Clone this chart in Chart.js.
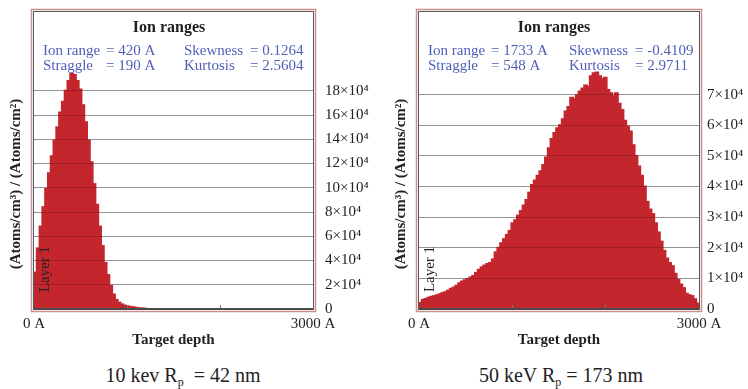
<!DOCTYPE html>
<html>
<head>
<meta charset="utf-8">
<script src="https://cdn.jsdelivr.net/npm/chart.js@4/dist/chart.umd.min.js"></script>
<style>
    body { margin: 0; background: #fff; width: 748px; height: 389px; overflow: hidden; position: relative; font-family: "Liberation Serif", "Times New Roman", serif; }
    canvas { position: absolute; top: 0; }
    #range10 { left: 0; }
    #range50 { left: 380px; }
    .caption { position: absolute; top: 364px; font-size: 20px; color: #222; text-align: center; white-space: pre; }
    .caption sub { font-size: 12px; vertical-align: -4px; }
</style>
</head>
<body>
<canvas id="range10" width="374" height="350"></canvas>
<canvas id="range50" width="368" height="350"></canvas>
<div class="caption" style="left:0;width:366px">10 kev R<sub>p</sub>  = 42 nm</div>
<div class="caption" style="left:380px;width:362px">50 keV R<sub>p</sub> = 173 nm</div>

<script>
// depth histogram, 30 A per bin starting at 0 A, counts in units of 10^4
const BIN_WIDTH = 30;
const DEPTH_MAX = 3000;

const counts10keV = [
    3.0, 5.0, 6.8, 8.4, 9.9, 11.2, 12.6, 13.9, 15.0, 16.2,
    17.1, 18.0, 18.8, 19.4, 19.3, 18.8, 18.1, 16.8, 15.4, 13.9,
    12.1, 10.3, 8.6, 6.8, 5.2, 3.8, 2.8, 1.9, 1.2, 0.75,
    0.52, 0.38, 0.28, 0.22, 0.18, 0.14, 0.10, 0.06, 0.03, 0.01
];

const counts50keV = [
    0.20, 0.30, 0.33, 0.37, 0.40, 0.42, 0.45, 0.48, 0.52, 0.55,
    0.60, 0.66, 0.70, 0.76, 0.84, 0.90, 0.94, 0.98, 1.03, 1.08,
    1.18, 1.28, 1.36, 1.42, 1.47, 1.50, 1.62, 1.85, 2.00, 2.15,
    2.28, 2.42, 2.55, 2.80, 2.90, 3.05, 3.20, 3.38, 3.56, 3.80,
    4.05, 4.20, 4.35, 4.50, 4.70, 4.95, 5.25, 5.55, 5.75, 5.90,
    6.00, 6.20, 6.45, 6.60, 6.90, 6.85, 6.98, 7.10, 7.20, 7.30,
    7.25, 7.60, 7.70, 7.72, 7.60, 7.50, 7.55, 7.15, 7.05, 6.95,
    7.05, 6.70, 6.50, 6.15, 5.95, 5.80, 5.35, 5.00, 4.65, 4.35,
    4.00, 3.50, 3.25, 3.10, 2.80, 2.50, 2.20, 1.90, 1.65, 1.50,
    1.40, 1.15, 0.95, 0.80, 0.68, 0.50, 0.45, 0.42, 0.32, 0.18
];

const yTicks10keV = [0, 2, 4, 6, 8, 10, 12, 14, 16, 18];
const yTicks50keV = [0, 1, 2, 3, 4, 5, 6, 7];
const xTicks = [0, 3000];
const minorDepths = [1000, 2000];

const stats10keV = [['Ion range', '= 420 A', 'Skewness', '= 0.1264'], ['Straggle', '= 190 A', 'Kurtosis', '= 2.5604']];
const stats50keV = [['Ion range', '= 1733 A', 'Skewness', '= -0.4109'], ['Straggle', '= 548 A', 'Kurtosis', '= 2.9711']];

const SERIF = '"Liberation Serif", "Times New Roman", serif';
const BAR_RED = '#c4262e';
const STAT_BLUE = '#4f5fb8';

function alignPx(p) {
    return Math.round(p - 0.5) + 0.5;
}

// frame, overlaid grid, labels inside the box
const rangeBox = {
    id: 'rangeBox',
    afterDatasetsDraw(chart) {
        const { ctx, chartArea: a, scales } = chart;
        ctx.save();
        ctx.globalCompositeOperation = 'multiply';
        ctx.strokeStyle = '#d0d0d0';
        ctx.lineWidth = 1;
        scales.y.ticks.forEach(t => {
            if (t.value === 0) return;
            const y = alignPx(scales.y.getPixelForValue(t.value));
            ctx.beginPath();
            ctx.moveTo(a.left, y);
            ctx.lineTo(a.right, y);
            ctx.stroke();
        });
        ctx.restore();

        ctx.save();
        ctx.strokeStyle = '#777';
        ctx.lineWidth = 1;
        minorDepths.forEach(d => {
            const x = alignPx(scales.x.getPixelForValue(d));
            ctx.beginPath();
            ctx.moveTo(x, a.bottom);
            ctx.lineTo(x, a.bottom - 4);
            ctx.stroke();
        });

        ctx.strokeStyle = '#cc8e8e';
        ctx.lineWidth = 1.5;
        ctx.strokeRect(a.left - 2.5, a.top - 2.5, a.width + 5, a.height + 5);
        ctx.strokeStyle = '#5a5a5a';
        ctx.lineWidth = 1;
        ctx.strokeRect(a.left - 0.5, a.top - 0.5, a.width + 1, a.height + 1);
        ctx.lineWidth = 2;
        ctx.strokeStyle = '#4a4a4a';
        ctx.beginPath();
        ctx.moveTo(a.left, a.bottom);
        ctx.lineTo(a.right, a.bottom);
        ctx.stroke();
        ctx.restore();
    },
    afterDraw(chart, args, opts) {
        const { ctx, chartArea: a } = chart;
        ctx.save();
        ctx.textBaseline = 'middle';

        ctx.fillStyle = '#222';
        ctx.textAlign = 'center';
        ctx.font = 'bold 16px ' + SERIF;
        ctx.fillText('Ion ranges', a.left + 135, a.top + 16);

        ctx.fillStyle = STAT_BLUE;
        ctx.textAlign = 'left';
        ctx.font = '15px ' + SERIF;
        const cols = [9, 72, 150, 216];
        opts.stats.forEach((row, r) => {
            row.forEach((txt, c) => ctx.fillText(txt, a.left + cols[c], a.top + 39 + r * 15));
        });

        ctx.fillStyle = '#222';
        ctx.textAlign = 'center';
        ctx.save();
        ctx.translate(a.left + 11, a.bottom - 40);
        ctx.rotate(-Math.PI / 2);
        ctx.font = '15px ' + SERIF;
        ctx.fillText('Layer 1', 0, 0);
        ctx.restore();

        ctx.save();
        ctx.translate(a.left - 18, a.top + 172);
        ctx.rotate(-Math.PI / 2);
        ctx.font = 'bold 15px ' + SERIF;
        ctx.fillText('(Atoms/cm³) / (Atoms/cm²)', 0, 0);
        ctx.restore();

        ctx.restore();
    }
};

function makeRangeChart(canvasId, counts, yTicks, yMax, stats, padLeft, axisWidth, labelGap) {
    const points = counts.map((v, i) => ({ x: BIN_WIDTH * i + BIN_WIDTH / 2, y: v }));
    return new Chart(document.getElementById(canvasId), {
        type: 'bar',
        data: {
            datasets: [{
                data: points,
                backgroundColor: BAR_RED,
                borderWidth: 0,
                inflateAmount: 1,
                barPercentage: 1,
                categoryPercentage: 1
            }]
        },
        plugins: [rangeBox],
        options: {
            responsive: false,
            animation: false,
            layout: { padding: { left: padLeft, top: 12, right: 0, bottom: 0 } },
            scales: {
                x: {
                    type: 'linear',
                    offset: false,
                    min: 0,
                    max: DEPTH_MAX,
                    grid: { display: false, drawTicks: false, offset: false },
                    border: { display: false },
                    afterBuildTicks: scale => { scale.ticks = xTicks.map(v => ({ value: v })); },
                    afterFit: scale => {
                        scale.height = 41;
                        scale.paddingLeft = 0;
                        scale.paddingRight = 0;
                    },
                    ticks: {
                        autoSkip: false,
                        maxRotation: 0,
                        padding: 6,
                        color: '#222',
                        font: { family: SERIF, size: 15 },
                        callback: v => v + ' A'
                    },
                    title: {
                        display: true,
                        text: 'Target depth',
                        color: '#222',
                        padding: { top: 0, bottom: 1 },
                        font: { family: SERIF, size: 15, weight: 'bold' }
                    }
                },
                y: {
                    position: 'right',
                    min: 0,
                    max: yMax,
                    grid: { color: '#b6b6b6', lineWidth: 1, drawTicks: false },
                    border: { display: false },
                    afterBuildTicks: scale => { scale.ticks = yTicks.map(v => ({ value: v })); },
                    afterFit: scale => {
                        scale.width = axisWidth;
                        scale.paddingTop = 0;
                        scale.paddingBottom = 0;
                    },
                    ticks: {
                        padding: labelGap,
                        color: '#222',
                        font: { family: SERIF, size: 15 },
                        callback: v => v === 0 ? '0' : v + '×10⁴'
                    }
                }
            },
            plugins: {
                legend: { display: false },
                tooltip: { enabled: false },
                rangeBox: { stats: stats }
            }
        }
    });
}

document.addEventListener('DOMContentLoaded', () => {
    makeRangeChart('range10', counts10keV, yTicks10keV, 24.5, stats10keV, 34, 61, 12);
    makeRangeChart('range50', counts50keV, yTicks50keV, 9.7, stats50keV, 39, 49, 8);
});
</script>
</body>
</html>
